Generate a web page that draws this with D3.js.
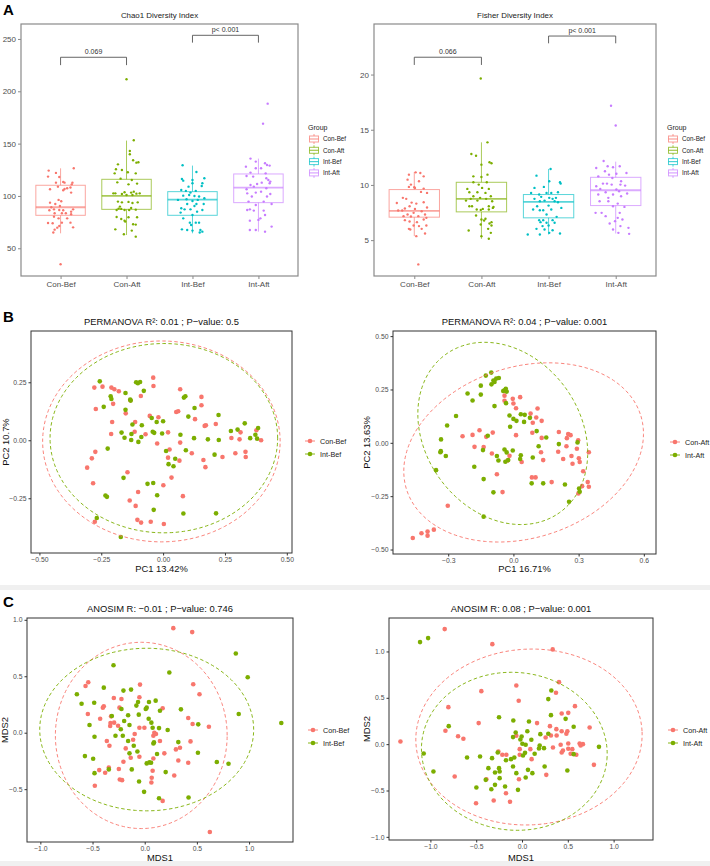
<!DOCTYPE html>
<html>
<head>
<meta charset="utf-8">
<script src="https://cdn.jsdelivr.net/npm/d3@7"></script>
<style>
  body { margin: 0; background: #fff; }
  text { font-family: "Liberation Sans", Arial, sans-serif; }
</style>
</head>
<body>
<script>
const groups = ["Con-Bef", "Con-Aft", "Int-Bef", "Int-Aft"]
const groupColors = ["#F8766D", "#7CAE00", "#00BFC4", "#C77CFF"]
const pairColors = ["#F8766D", "#7CAE00"]

// box stats: lower whisker, q1, median, q3, upper whisker
const chao1Stats = [[64.3, 81.5, 89.2, 110.2, 126.4], [62.7, 87.2, 100.0, 115.9, 152.9], [64.3, 81.5, 96.5, 104.1, 129.0], [65.9, 93.6, 108.0, 121.0, 135.7]]
const fisherStats = [[5.36, 7.08, 7.65, 9.58, 11.17], [5.12, 7.56, 8.74, 10.24, 13.86], [5.51, 7.02, 8.46, 9.13, 11.45], [5.60, 8.13, 9.52, 10.69, 12.11]]

// jittered samples: [jitter (category units), value]
const chao1ConBef = [[-.18,124.2],[-.07,122.0],[.20,126.4],[-.19,118.5],[-.02,118.1],[.04,113.4],[-.07,112.7],[.06,112.7],[.18,112.7],[.17,111.1],[-.04,108.9],[-.16,106.4],[.15,108.0],[.06,106.7],[.10,107.3],[.04,105.4],[.16,103.2],[-.03,96.2],[.01,94.9],[-.16,93.6],[-.08,92.3],[-.01,90.4],[-.14,89.2],[-.10,87.2],[-.17,86.3],[-.02,86.6],[.04,86.3],[.19,87.2],[.16,85.0],[-.09,83.4],[.02,83.4],[.08,83.4],[-.10,80.2],[-.03,78.6],[.10,78.6],[.16,82.5],[-.19,74.2],[-.12,73.9],[.02,74.5],[.15,74.5],[-.02,71.3],[-.05,69.7],[.19,70.0],[-.09,67.8],[-.11,65.0],[0,34.7]]
const chao1ConAft = [[0,211.5],[.11,153.2],[.05,143.0],[.05,139.8],[-.13,130.2],[.10,134.1],[.15,131.8],[.18,132.2],[-.16,125.5],[-.07,124.8],[-.18,121.6],[.02,122.6],[.14,121.6],[-.09,116.5],[.08,115.3],[-.14,113.0],[.16,111.8],[.03,111.1],[-.20,102.5],[-.17,102.5],[.11,104.1],[-.03,103.5],[.07,103.2],[.15,102.2],[.20,102.5],[0,100.9],[.09,100.9],[-.07,101.9],[-.13,94.6],[-.07,93.9],[.03,94.3],[.09,93.3],[.17,93.9],[-.10,89.8],[-.12,87.9],[-.08,87.6],[-.15,86.6],[.07,88.5],[.14,86.9],[-.03,86.6],[.04,86.6],[-.15,79.9],[.03,79.6],[-.08,78.0],[-.03,76.4],[-.02,75.5],[.16,79.6],[.10,72.9],[.14,72.6],[-.17,68.1],[.08,66.9],[-.04,63.4],[.14,61.1]]
const chao1IntBef = [[-.15,129.3],[.06,122.9],[-.16,116.2],[-.14,114.6],[0,115.3],[.18,116.9],[0,112.1],[-.06,108.9],[.15,112.1],[.14,109.5],[-.17,105.7],[-.10,104.8],[.05,104.8],[-.03,103.2],[-.05,100.9],[-.14,100.3],[.03,100.0],[.10,99.4],[-.22,96.2],[-.09,96.8],[.08,96.2],[.18,97.8],[0,95.2],[-.08,92.3],[.06,92.3],[.17,92.3],[.03,90.4],[-.17,88.2],[-.12,87.2],[-.03,87.2],[.15,86.6],[-.18,84.1],[.07,85.0],[0,81.8],[-.14,78.6],[-.04,74.5],[.10,74.5],[-.02,72.3],[.05,74.5],[-.16,68.1],[.12,67.5],[0,66.9],[.15,65.9],[-.08,67.5],[.11,65.0]]
const chao1IntAft = [[.14,188.2],[.07,169.1],[-.12,135.7],[-.04,132.8],[.10,131.2],[.13,129.6],[.17,129.0],[-.19,128.0],[-.04,126.4],[.04,126.4],[-.12,122.3],[.11,121.6],[-.18,119.1],[-.08,118.5],[.12,116.9],[.15,115.3],[.18,113.7],[.17,112.1],[.05,112.7],[-.02,111.4],[-.12,110.5],[-.07,108.9],[-.18,106.4],[.12,107.3],[.04,104.1],[-.04,103.2],[-.17,102.5],[.18,101.9],[-.10,99.4],[.13,99.4],[-.15,94.6],[.08,94.6],[-.04,91.4],[.20,92.3],[-.13,87.2],[-.17,86.6],[.08,86.0],[-.07,86.0],[.10,81.8],[.03,78.6],[0,77.1],[-.13,76.4],[.20,70.7],[-.13,67.5],[.10,65.9],[-.04,67.5]]

const fisherConBef = [[.02,11.14],[.09,11.08],[-.08,10.93],[.14,10.78],[-.10,10.48],[.07,10.33],[-.05,10.03],[0,9.79],[-.08,9.82],[.01,9.73],[.14,9.67],[.10,9.37],[.19,9.28],[-.17,8.83],[-.12,8.74],[-.26,8.37],[.14,8.43],[-.04,8.40],[.03,8.31],[-.07,8.07],[.19,7.95],[.01,7.83],[-.14,7.86],[-.18,7.68],[-.24,7.68],[.11,7.62],[-.01,7.47],[-.10,7.32],[.16,7.32],[-.16,7.17],[-.05,7.14],[.06,7.17],[.18,7.02],[-.14,6.81],[-.07,6.69],[.04,6.63],[.14,6.87],[-.01,6.33],[.07,6.27],[.18,6.33],[-.08,6.02],[.11,6.02],[-.06,5.96],[.16,5.60],[.03,5.36],[.06,2.80]]
const fisherConAft = [[-.01,19.64],[.09,13.86],[-.15,12.80],[-.08,12.65],[.12,12.05],[.15,11.96],[0,11.84],[-.12,10.78],[0,10.72],[.09,10.93],[-.12,10.24],[.08,10.24],[-.04,10.03],[-.21,9.64],[.01,9.73],[.11,9.64],[-.18,9.34],[-.06,9.34],[.06,9.28],[-.12,8.98],[.14,8.98],[-.02,8.83],[-.16,8.74],[-.23,8.58],[.07,8.74],[-.06,8.58],[.16,8.52],[-.14,8.07],[-.18,8.07],[.11,8.07],[.02,7.83],[.18,8.01],[-.07,7.77],[-.01,7.74],[.11,7.77],[.17,7.92],[-.08,7.23],[.06,6.93],[0,6.87],[.04,6.78],[.15,6.63],[-.01,6.42],[.12,6.51],[.15,6.33],[.10,6.02],[-.19,5.87],[.14,5.66],[0,5.36],[.11,5.12]]
const fisherIntBef = [[.03,11.45],[-.18,10.84],[.01,10.33],[.17,10.24],[.18,10.12],[-.07,9.82],[-.21,9.73],[.14,9.34],[-.26,9.28],[-.03,9.28],[-.14,9.13],[.04,9.28],[-.11,8.92],[.11,8.83],[.01,8.83],[-.21,8.74],[.06,8.74],[-.06,8.58],[.09,8.52],[-.13,8.52],[.14,8.43],[-.17,8.07],[0,8.13],[.19,7.92],[-.13,7.71],[-.08,7.71],[-.23,7.77],[.04,7.77],[-.03,7.32],[.12,7.11],[-.14,6.81],[-.08,6.81],[.06,6.81],[-.12,6.63],[-.03,6.57],[.09,6.57],[0,6.33],[-.09,6.27],[-.18,6.02],[-.06,5.96],[.06,5.90],[-.31,5.51],[-.13,5.51],[.01,5.66],[.17,5.60]]
const fisherIntAft = [[-.07,17.17],[0,15.39],[-.18,12.17],[-.12,11.69],[.06,11.69],[-.29,11.54],[-.04,11.60],[-.16,11.24],[.01,11.02],[-.10,10.93],[.16,11.08],[-.26,10.78],[-.05,10.63],[.08,10.33],[-.19,10.12],[-.13,10.12],[.07,10.03],[-.06,10.03],[-.29,9.88],[.14,9.94],[-.23,9.64],[.01,9.58],[.05,9.43],[-.15,9.34],[.17,9.22],[-.26,9.13],[-.04,9.13],[.08,8.98],[-.11,8.83],[-.24,8.52],[-.11,8.52],[.03,8.31],[-.04,8.07],[.13,8.01],[-.30,7.47],[-.21,7.47],[.06,7.47],[-.15,7.17],[.03,7.02],[.10,6.87],[-.01,6.72],[-.09,6.51],[.07,6.27],[-.04,5.96],[.19,6.11],[.04,5.66],[.20,5.57]]

// significance brackets: from, to, bar level, tip level, label
const chao1Sig = [[0, 1, 232.5, 225, "0.069"], [2, 3, 253.5, 246.5, "p< 0.001"]]
const fisherSig = [[0, 1, 21.57, 20.87, "0.066"], [2, 3, 23.49, 22.83, "p< 0.001"]]

// PCoA, before
const pcoaBefCon = [[-0.040,0.270],[-0.039,0.234],[-0.278,0.227],[-0.245,0.231],[-0.209,0.227],[-0.197,0.220],[-0.179,0.211],[-0.090,0.191],[0.069,0.220],[0.155,0.187],[-0.272,0.135],[-0.202,0.157],[-0.132,0.172],[-0.151,0.116],[-0.054,0.105],[0.053,0.122],[0.061,0.125],[0.155,0.151],[0.129,0.091],[0.168,0.062],[0.173,0.065],[0.213,0.070],[-0.206,0.079],[-0.210,0.027],[-0.113,0.079],[-0.019,0.099],[-0.115,0.037],[0.020,0.034],[-0.071,0.026],[0.313,0.034],[0.309,0.004],[0.276,0.010],[0.396,0.000],[0.377,0.043],[-0.024,-0.014],[0.069,-0.010],[0.116,-0.056],[0.163,-0.085],[0.171,-0.116],[0.240,-0.072],[0.292,-0.056],[0.333,-0.050],[0.334,-0.072],[0.026,-0.040],[0.020,-0.075],[0.066,-0.088],[0.034,-0.161],[0.001,-0.194],[-0.274,-0.050],[-0.288,-0.078],[-0.307,-0.118],[-0.283,-0.185],[-0.144,-0.138],[-0.101,-0.223],[-0.135,-0.260],[-0.111,-0.283],[-0.104,-0.343],[-0.089,-0.355],[-0.050,-0.351],[0.003,-0.361],[-0.276,-0.351],[0.080,-0.241]]
const pcoaBefInt = [[-0.256,0.254],[-0.212,0.190],[-0.209,0.178],[-0.240,0.144],[-0.152,0.204],[-0.133,0.175],[-0.109,0.250],[-0.102,0.246],[-0.093,0.251],[-0.078,0.213],[-0.152,0.131],[-0.131,0.171],[-0.124,0.068],[-0.168,0.033],[-0.156,0.011],[-0.128,0.027],[-0.086,0.065],[-0.088,0.014],[-0.129,0.001],[-0.046,0.096],[-0.026,0.079],[-0.042,0.037],[-0.036,0.032],[0.000,0.082],[-0.004,0.029],[0.012,-0.046],[0.022,-0.103],[0.049,-0.080],[0.042,-0.112],[0.070,0.024],[0.084,0.184],[0.090,0.190],[0.102,0.102],[0.127,0.139],[0.125,0.009],[0.092,-0.043],[0.181,0.004],[0.225,0.001],[0.224,0.109],[0.208,-0.062],[0.274,0.040],[0.301,0.046],[0.330,0.073],[0.352,0.009],[0.373,0.024],[0.384,0.053],[0.380,0.007],[-0.224,-0.036],[-0.160,-0.162],[-0.100,-0.007],[-0.063,-0.188],[-0.024,-0.237],[-0.040,-0.184],[-0.038,-0.300],[0.082,-0.316],[0.214,-0.315],[-0.233,-0.238],[-0.227,-0.244],[-0.268,-0.335],[-0.171,-0.417]]
// PCoA, after
const pcoaAftCon = [[-0.463,-0.446],[-0.423,-0.424],[-0.395,-0.416],[-0.395,-0.435],[-0.366,-0.407],[-0.302,-0.295],[-0.234,0.031],[-0.188,0.037],[-0.156,0.059],[-0.125,0.028],[-0.095,0.048],[-0.137,-0.020],[-0.099,-0.050],[-0.076,-0.147],[-0.050,-0.231],[-0.041,0.197],[-0.041,0.221],[-0.003,0.206],[0.000,0.184],[0.031,0.214],[0.012,0.036],[-0.027,-0.083],[-0.018,-0.061],[0.038,-0.090],[0.012,0.162],[0.079,0.137],[0.089,0.094],[0.087,0.047],[0.105,0.119],[0.111,0.161],[0.130,0.103],[0.127,-0.044],[0.137,-0.081],[0.130,0.023],[0.085,-0.162],[0.102,-0.162],[0.176,-0.184],[0.209,0.051],[0.252,0.041],[0.263,0.036],[0.246,0.022],[0.244,-0.016],[0.206,-0.042],[0.229,-0.076],[0.267,-0.062],[0.272,-0.098],[0.298,0.012],[0.292,-0.028],[0.301,-0.072],[0.305,-0.090],[0.347,-0.044],[0.321,-0.133],[0.342,-0.184],[0.347,-0.206],[0.316,-0.203],[0.299,-0.237],[-0.179,-0.019]]
const pcoaAftInt = [[-0.127,0.315],[-0.102,0.329],[-0.092,0.292],[-0.079,0.301],[-0.067,0.304],[-0.101,0.274],[-0.150,0.268],[-0.087,0.285],[-0.150,0.226],[-0.211,0.231],[-0.188,0.198],[-0.047,0.243],[-0.035,0.253],[-0.031,0.240],[-0.041,0.246],[-0.034,0.186],[-0.264,0.126],[-0.305,0.081],[-0.087,0.172],[-0.118,0.033],[-0.018,0.128],[0.000,0.112],[0.014,0.103],[0.034,0.134],[0.052,0.131],[0.049,0.098],[0.076,0.117],[0.107,0.055],[0.151,0.025],[-0.015,0.075],[-0.140,-0.034],[-0.180,-0.112],[-0.137,-0.170],[-0.092,-0.232],[-0.076,-0.062],[-0.069,-0.083],[-0.031,-0.045],[-0.037,-0.089],[-0.024,-0.081],[-0.041,-0.031],[-0.003,-0.036],[0.034,-0.058],[0.031,-0.076],[0.089,-0.069],[0.084,-0.190],[0.137,-0.190],[0.116,-0.016],[0.209,-0.006],[0.237,-0.195],[0.295,0.002],[0.256,-0.276],[0.302,-0.214],[0.305,-0.229],[-0.333,0.016],[-0.336,-0.044],[-0.334,-0.039],[-0.311,-0.062],[-0.356,-0.128],[-0.137,-0.346]]
// NMDS, before
const nmdsBefCon = [[0.274,0.926],[0.455,0.891],[-0.541,0.447],[-0.567,0.414],[-0.045,0.426],[0.465,0.429],[0.525,0.340],[-0.296,0.308],[-0.223,0.299],[-0.051,0.314],[-0.392,0.234],[-0.401,0.222],[-0.242,0.222],[0.172,0.216],[-0.545,0.166],[-0.427,0.124],[-0.328,0.086],[-0.322,0.145],[-0.293,0.089],[-0.255,0.062],[-0.331,0.059],[0.417,0.130],[0.459,0.077],[0.615,0.053],[-0.051,0.044],[-0.003,0.044],[0.092,0.000],[0.083,-0.027],[0.108,-0.012],[-0.096,-0.012],[-0.363,-0.074],[-0.338,-0.115],[-0.111,-0.062],[0.146,-0.074],[0.439,-0.077],[0.338,-0.133],[0.299,-0.148],[0.188,-0.183],[-0.182,-0.139],[0.083,-0.228],[-0.051,-0.213],[-0.134,-0.222],[-0.204,-0.257],[0.322,-0.246],[0.417,-0.266],[0.076,-0.337],[0.283,-0.379],[-0.436,-0.331],[-0.379,-0.355],[-0.344,-0.308],[-0.248,-0.322],[-0.239,-0.414],[-0.217,-0.420],[0.067,-0.399],[0.064,-0.441],[-0.478,-0.470],[0.172,-0.604],[0.624,-0.879]]
const nmdsBefInt = [[-0.299,0.598],[-0.650,0.340],[-0.605,0.257],[-0.392,0.399],[-0.204,0.373],[-0.131,0.382],[-0.484,0.266],[-0.529,0.068],[-0.481,-0.036],[-0.573,-0.207],[-0.494,-0.231],[-0.481,-0.358],[-0.344,-0.325],[-0.315,0.148],[-0.223,0.210],[-0.280,-0.027],[-0.210,-0.027],[-0.229,0.030],[-0.197,0.104],[-0.159,0.154],[-0.146,0.068],[-0.159,-0.074],[-0.105,-0.115],[-0.146,-0.183],[-0.124,-0.325],[-0.054,-0.432],[-0.080,0.240],[-0.064,0.272],[-0.057,0.160],[-0.070,-0.166],[0.010,0.210],[0.019,0.222],[0.041,0.272],[0.105,0.284],[0.146,0.195],[0.038,0.124],[0.064,0.089],[0.076,0.044],[0.137,0.041],[0.083,-0.095],[0.061,-0.266],[0.045,-0.263],[0.019,-0.272],[-0.006,-0.524],[0.089,-0.086],[0.118,-0.189],[0.201,-0.349],[0.137,-0.580],[0.220,0.024],[0.236,0.533],[0.347,0.207],[0.322,-0.083],[0.420,-0.574],[0.510,-0.178],[0.691,-0.260],[0.803,-0.275],[0.873,0.701],[0.987,0.491],[0.901,0.166],[1.309,0.086],[0.513,0.074]]
// NMDS, after
const nmdsAftCon = [[-0.844,1.241],[-0.324,1.079],[0.335,1.022],[-1.327,0.029],[-0.804,0.399],[-0.444,0.572],[-0.836,0.144],[-0.698,0.086],[-0.640,0.058],[-0.473,0.227],[-0.062,0.633],[-0.036,0.468],[0.404,0.669],[0.371,0.554],[0.578,0.410],[0.433,0.331],[0.505,0.338],[0.738,0.180],[0.164,0.227],[0.305,0.194],[0.316,0.094],[0.378,0.094],[0.433,0.140],[0.484,0.112],[0.495,0.140],[-0.062,0.090],[-0.025,-0.054],[0.091,-0.054],[0.258,0.072],[0.338,-0.036],[0.422,-0.007],[0.433,-0.090],[0.447,-0.068],[0.505,0.007],[0.505,-0.050],[0.549,-0.054],[0.531,-0.104],[0.593,-0.115],[0.629,0.007],[0.665,0.000],[0.640,-0.014],[0.785,-0.223],[-0.258,-0.079],[-0.215,-0.115],[-0.171,-0.115],[-0.025,-0.115],[0.105,-0.162],[0.265,-0.331],[-0.389,-0.378],[-0.033,-0.378],[-0.175,-0.529],[-0.309,-0.608],[-0.131,-0.622],[-0.502,-0.637],[-0.735,-0.349],[0.375,0.162]]
const nmdsAftInt = [[-1.113,1.101],[-1.025,1.144],[-0.800,0.194],[-1.073,-0.101],[-0.967,-0.295],[-0.251,0.291],[-0.095,0.255],[0.076,0.245],[0.320,0.579],[0.287,0.486],[0.316,0.313],[0.476,0.273],[0.564,0.187],[-0.069,0.126],[0.058,0.140],[0.287,0.112],[-0.004,0.083],[-0.018,0.050],[-0.098,0.076],[0.004,0.004],[0.040,-0.007],[0.102,0.047],[0.200,0.108],[0.193,-0.014],[0.185,-0.047],[0.138,-0.104],[0.011,-0.122],[0.033,-0.094],[0.240,-0.043],[-0.265,-0.090],[-0.084,-0.144],[-0.175,-0.173],[-0.120,-0.162],[-0.458,-0.133],[-0.600,-0.144],[-0.327,-0.151],[-0.251,-0.259],[-0.244,-0.295],[-0.244,-0.367],[-0.367,-0.259],[-0.295,-0.306],[-0.396,-0.385],[-0.295,-0.439],[-0.335,-0.486],[-0.185,-0.457],[-0.062,-0.313],[-0.098,-0.241],[0.040,-0.360],[0.065,-0.277],[0.113,-0.313],[0.247,-0.241],[-0.044,-0.493],[-0.498,-0.468],[0.495,-0.284],[0.564,-0.108],[0.840,-0.029]]

// 95% ellipses: cx, cy, rx, ry, angle (deg)
const pcoaBefEllipses = [[-0.007, -0.005, 0.480, 0.433, 0], [0.003, 0.009, 0.460, 0.408, 0]]
const pcoaAftEllipses = [[0.047, -0.045, 0.566, 0.400, 18.6], [-0.049, 0.044, 0.454, 0.359, -56.3]]
const nmdsBefEllipses = [[-0.033, -0.024, 0.823, 0.825, 0], [0.019, 0.028, 1.025, 0.720, 0]]
const nmdsAftEllipses = [[0.076, 0.077, 1.236, 0.948, 3], [-0.084, -0.077, 1.015, 0.851, -5]]

let svg = d3.select("body").append("svg")
  .attr("width", 710)
  .attr("height", 866)

svg.append("rect").attr("width", 710).attr("height", 866).attr("fill", "#fff")
// thin grey strips under B and C
svg.append("rect").attr("x", 0).attr("y", 585).attr("width", 710).attr("height", 5).attr("fill", "#f0f0f0")
svg.append("rect").attr("x", 0).attr("y", 861).attr("width", 710).attr("height", 5).attr("fill", "#f0f0f0")

function styleAxis(sel, size, col) {
  sel.select(".domain").remove()
  sel.selectAll(".tick line").attr("stroke", col)
  sel.selectAll(".tick text").attr("fill", "#4d4d4d").attr("font-size", size)
    .attr("font-family", "'Liberation Sans', Arial, sans-serif")
}

function drawBox(o) {
  let g = svg.append("g")
  let x = d3.scalePoint().domain(groups).range([o.left, o.right]).padding(0.6)
  let y = d3.scaleLinear().domain(o.yDomain).range([o.bottom, o.top])
  let bw = x.step() * 0.75

  g.append("text")
    .attr("x", (o.left + o.right) / 2).attr("y", o.top - 6)
    .attr("text-anchor", "middle").attr("font-size", 7.9).attr("fill", "#222")
    .text(o.title)

  o.stats.forEach((s, i) => {
    let cx = x(groups[i])
    let bg = g.append("g").attr("stroke", groupColors[i]).attr("stroke-opacity", 0.65).attr("fill", "none")
    bg.append("line").attr("x1", cx).attr("x2", cx).attr("y1", y(s[0])).attr("y2", y(s[1]))
    bg.append("line").attr("x1", cx).attr("x2", cx).attr("y1", y(s[3])).attr("y2", y(s[4]))
    bg.append("rect").attr("x", cx - bw / 2).attr("width", bw)
      .attr("y", y(s[3])).attr("height", y(s[1]) - y(s[3]))
    bg.append("line").attr("x1", cx - bw / 2).attr("x2", cx + bw / 2)
      .attr("y1", y(s[2])).attr("y2", y(s[2])).attr("stroke-width", 1.8)
  })

  o.points.forEach((pts, i) => {
    g.append("g").selectAll("circle")
      .data(pts)
      .join("circle")
      .attr("cx", d => x(groups[i]) + d[0] * x.step())
      .attr("cy", d => y(d[1]))
      .attr("r", 1.2)
      .attr("fill", groupColors[i])
  })

  o.sig.forEach(s => {
    let xa = x(groups[s[0]]), xb = x(groups[s[1]])
    g.append("path")
      .attr("d", `M${xa},${y(s[3])}V${y(s[2])}H${xb}V${y(s[3])}`)
      .attr("fill", "none").attr("stroke", "#555").attr("stroke-width", 0.9)
    g.append("text")
      .attr("x", (xa + xb) / 2).attr("y", y(s[2]) - 3)
      .attr("text-anchor", "middle").attr("font-size", 7).attr("fill", "#333")
      .text(s[4])
  })

  g.append("rect")
    .attr("x", o.left).attr("y", o.top)
    .attr("width", o.right - o.left).attr("height", o.bottom - o.top)
    .attr("fill", "none").attr("stroke", "#8a8a8a").attr("stroke-width", 1.2)

  g.append("g").attr("transform", `translate(${o.left},0)`)
    .call(d3.axisLeft(y).tickValues(o.yTicks).tickSize(3).tickPadding(2))
    .call(styleAxis, 8, "#8a8a8a")
  g.append("g").attr("transform", `translate(0,${o.bottom})`)
    .call(d3.axisBottom(x).tickSize(3).tickPadding(2))
    .call(styleAxis, 8, "#8a8a8a")

  // legend
  let lg = g.append("g").attr("transform", `translate(${o.legendX},${o.legendY})`)
  lg.append("text").attr("x", 0).attr("y", 0).attr("font-size", 7).attr("fill", "#222").text("Group")
  groups.forEach((name, i) => {
    let yy = 9 + i * 11.3
    let k = lg.append("g").attr("stroke", groupColors[i]).attr("stroke-opacity", 0.7).attr("fill", "none")
    k.append("line").attr("x1", 6).attr("x2", 6).attr("y1", yy - 5).attr("y2", yy + 5)
    k.append("rect").attr("x", 1.5).attr("y", yy - 3).attr("width", 9).attr("height", 6).attr("fill", "#fff")
    k.append("line").attr("x1", 1.5).attr("x2", 10.5).attr("y1", yy).attr("y2", yy).attr("stroke-width", 1.2)
    lg.append("text").attr("x", 15).attr("y", yy + 2.3).attr("font-size", 6.3).attr("fill", "#222").text(name)
  })
}

function drawScatter(o) {
  let g = svg.append("g")
  let x = d3.scaleLinear().domain(o.xDomain).range([o.left, o.right])
  let y = d3.scaleLinear().domain(o.yDomain).range([o.bottom, o.top])

  o.series.forEach((pts, i) => {
    g.append("g").selectAll("circle")
      .data(pts)
      .join("circle")
      .attr("cx", d => x(d[0]))
      .attr("cy", d => y(d[1]))
      .attr("r", 2.3)
      .attr("fill", pairColors[i])
  })

  let line = d3.line().x(d => x(d[0])).y(d => y(d[1])).curve(d3.curveLinearClosed)
  o.ellipses.forEach((e, i) => {
    let th = e[4] * Math.PI / 180
    let pts = d3.range(0, 2 * Math.PI, Math.PI / 90).map(t => [
      e[0] + e[2] * Math.cos(t) * Math.cos(th) - e[3] * Math.sin(t) * Math.sin(th),
      e[1] + e[2] * Math.cos(t) * Math.sin(th) + e[3] * Math.sin(t) * Math.cos(th)
    ])
    g.append("path").attr("d", line(pts))
      .attr("fill", "none").attr("stroke", pairColors[i]).attr("stroke-width", 0.9)
      .attr("stroke-dasharray", "3.5,2.5")
  })

  g.append("rect")
    .attr("x", o.left).attr("y", o.top)
    .attr("width", o.right - o.left).attr("height", o.bottom - o.top)
    .attr("fill", "none").attr("stroke", "#333").attr("stroke-width", 1)

  g.append("g").attr("transform", `translate(${o.left},0)`)
    .call(d3.axisLeft(y).tickValues(o.yTicks).tickFormat(d3.format(o.yFmt)).tickSize(2.5).tickPadding(2))
    .call(styleAxis, 6.8, "#333")
  g.append("g").attr("transform", `translate(0,${o.bottom})`)
    .call(d3.axisBottom(x).tickValues(o.xTicks).tickFormat(d3.format(o.xFmt)).tickSize(2.5).tickPadding(1.5))
    .call(styleAxis, 6.8, "#333")

  g.append("text")
    .attr("x", (o.left + o.right) / 2).attr("y", o.top - 6)
    .attr("text-anchor", "middle").attr("font-size", 9.4).attr("fill", "#111")
    .text(o.title)
  g.append("text")
    .attr("x", (o.left + o.right) / 2).attr("y", o.xTitleY)
    .attr("text-anchor", "middle").attr("font-size", 9.4).attr("fill", "#111")
    .text(o.xTitle)
  g.append("text")
    .attr("transform", `translate(${o.yTitleX},${(o.top + o.bottom) / 2}) rotate(-90)`)
    .attr("text-anchor", "middle").attr("font-size", 9.4).attr("fill", "#111")
    .text(o.yTitle)

  o.names.forEach((name, i) => {
    let yy = o.legendY + i * 13
    g.append("line").attr("x1", o.legendX - 5).attr("x2", o.legendX + 5)
      .attr("y1", yy).attr("y2", yy).attr("stroke", pairColors[i]).attr("stroke-width", 0.9)
    g.append("circle").attr("cx", o.legendX).attr("cy", yy).attr("r", 2.3).attr("fill", pairColors[i])
    g.append("text").attr("x", o.legendX + 10).attr("y", yy + 2.5)
      .attr("font-size", 7.2).attr("fill", "#222").text(name)
  })
}

drawBox({
  left: 21, right: 298, top: 24, bottom: 276,
  yDomain: [23.5, 264.3], yTicks: [50, 100, 150, 200, 250],
  title: "Chao1 Diversity Index",
  stats: chao1Stats,
  points: [chao1ConBef, chao1ConAft, chao1IntBef, chao1IntAft],
  sig: chao1Sig,
  legendX: 308, legendY: 130
})
drawBox({
  left: 374, right: 656, top: 24, bottom: 276,
  yDomain: [1.75, 24.58], yTicks: [5, 10, 15, 20],
  title: "Fisher Diversity Index",
  stats: fisherStats,
  points: [fisherConBef, fisherConAft, fisherIntBef, fisherIntAft],
  sig: fisherSig,
  legendX: 667, legendY: 130
})

drawScatter({
  left: 31, right: 292, top: 331, bottom: 553,
  xDomain: [-0.534, 0.521], yDomain: [-0.486, 0.471],
  xTicks: [-0.5, -0.25, 0, 0.25, 0.5], yTicks: [-0.25, 0, 0.25], xFmt: ".2f", yFmt: ".2f",
  series: [pcoaBefCon, pcoaBefInt], ellipses: pcoaBefEllipses,
  title: "PERMANOVA R\u00b2: 0.01 ; P\u2212value: 0.5",
  xTitle: "PC1 13.42%", xTitleY: 572, yTitle: "PC2 10.7%", yTitleX: 9,
  names: ["Con-Bef", "Int-Bef"], legendX: 310, legendY: 441
})
drawScatter({
  left: 393, right: 656, top: 331, bottom: 554,
  xDomain: [-0.554, 0.656], yDomain: [-0.521, 0.524],
  xTicks: [-0.3, 0, 0.3, 0.6], yTicks: [-0.5, -0.25, 0, 0.25, 0.5], xFmt: ".1f", yFmt: ".2f",
  series: [pcoaAftCon, pcoaAftInt], ellipses: pcoaAftEllipses,
  title: "PERMANOVA R\u00b2: 0.04 ; P\u2212value: 0.001",
  xTitle: "PC1 16.71%", xTitleY: 572, yTitle: "PC2 13.63%", yTitleX: 370,
  names: ["Con-Aft", "Int-Aft"], legendX: 675, legendY: 442
})
drawScatter({
  left: 27, right: 293, top: 618, bottom: 842,
  xDomain: [-1.128, 1.421], yDomain: [-0.968, 1.016],
  xTicks: [-1, -0.5, 0, 0.5, 1], yTicks: [-0.5, 0, 0.5, 1], xFmt: ".1f", yFmt: ".1f",
  series: [nmdsBefCon, nmdsBefInt], ellipses: nmdsBefEllipses,
  title: "ANOSIM R: \u22120.01 ; P\u2212value: 0.746",
  xTitle: "MDS1", xTitleY: 861, yTitle: "MDS2", yTitleX: 8,
  names: ["Con-Bef", "Int-Bef"], legendX: 313, legendY: 730
})
drawScatter({
  left: 389, right: 653, top: 618, bottom: 840,
  xDomain: [-1.452, 1.430], yDomain: [-1.034, 1.361],
  xTicks: [-1, -0.5, 0, 0.5, 1], yTicks: [-1, -0.5, 0, 0.5, 1], xFmt: ".1f", yFmt: ".1f",
  series: [nmdsAftCon, nmdsAftInt], ellipses: nmdsAftEllipses,
  title: "ANOSIM R: 0.08 ; P\u2212value: 0.001",
  xTitle: "MDS1", xTitleY: 861, yTitle: "MDS2", yTitleX: 370,
  names: ["Con-Aft", "Int-Aft"], legendX: 673, legendY: 730
})

// panel letters
svg.selectAll(".panel-letter")
  .data([["A", 15], ["B", 322], ["C", 607]])
  .join("text")
  .attr("class", "panel-letter")
  .attr("x", 3).attr("y", d => d[1])
  .attr("font-size", 15).attr("font-weight", "bold").attr("fill", "#000")
  .text(d => d[0])
</script>
</body>
</html>
